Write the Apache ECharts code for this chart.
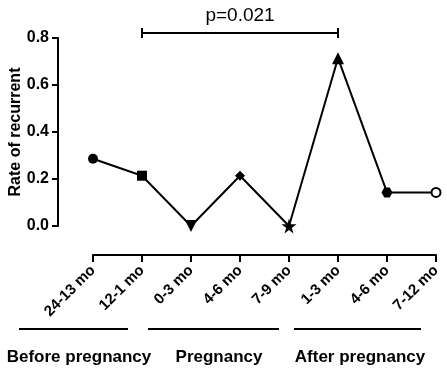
<!DOCTYPE html>
<html>
<head>
<meta charset="utf-8">
<script src="https://cdn.jsdelivr.net/npm/echarts@6/dist/echarts.min.js"></script>
<style>
html, body { margin: 0; padding: 0; background: #fff; }
#main { width: 447px; height: 376px; }
</style>
</head>
<body>
<div id="main"></div>
<script>
var periods = ['24-13 mo', '12-1 mo', '0-3 mo', '4-6 mo', '7-9 mo', '1-3 mo', '4-6 mo', '7-12 mo'];
var rates = [0.286, 0.214, 0, 0.214, 0, 0.714, 0.143, 0.143];
var marks = ['circle', 'rect', 'triangle', 'diamond', 'star', 'triangle', 'hexagon', 'emptyCircle'];
var groups = ['Before pregnancy', 'Pregnancy', 'After pregnancy'];
var yTicks = [0, 0.2, 0.4, 0.6, 0.8];
var pText = 'p=0.021';
var pFrom = 1, pTo = 5;

var starPath = 'path://M50,0 L61,35 L98,35 L68,57 L79,91 L50,70 L21,91 L32,57 L2,35 L39,35 Z';
var hexPath = 'path://M25,0 L75,0 L100,43 L75,86 L25,86 L0,43 Z';

var font = '"Liberation Sans", Arial, sans-serif';

var dom = document.getElementById('main');
var myChart = echarts.init(dom);

var pts = rates.map(function (v, i) {
    var it = { value: v, symbol: marks[i] };
    if (marks[i] == 'star') { it.symbol = starPath; it.symbolSize = 15; }
    if (marks[i] == 'hexagon') { it.symbol = hexPath; it.symbolSize = [11, 10]; }
    if (marks[i] == 'rect') { it.symbolSize = 10; }
    if (i == 2) { it.symbolRotate = 180; it.symbolSize = 12; }
    if (i == 5) { it.symbolSize = 12; }
    if (marks[i] == 'emptyCircle') { it.itemStyle = { borderWidth: 2.5 }; it.symbolSize = 9; }
    return it;
});

option = {
    animation: false,
    backgroundColor: '#fff',
    textStyle: { fontFamily: font },
    grid: { left: 93, right: 11, top: 38, bottom: 150, outerBoundsMode: 'none', containLabel: false },
    xAxis: {
        type: 'category',
        data: periods,
        boundaryGap: false,
        offset: 29,
        axisLine: { onZero: false, lineStyle: { color: '#000', width: 2 } },
        axisTick: { length: 7, lineStyle: { color: '#000', width: 2 } },
        axisLabel: { rotate: 45, margin: 13, color: '#000', fontWeight: 'bold', fontSize: 15, fontFamily: font, interval: 0 },
        splitLine: { show: false }
    },
    yAxis: {
        type: 'value',
        min: yTicks[0],
        max: yTicks[yTicks.length - 1],
        interval: 0.2,
        offset: 35,
        name: 'Rate of recurrent',
        nameLocation: 'middle',
        nameGap: 34,
        nameMoveOverlap: false,
        nameTextStyle: { color: '#000', fontWeight: 'bold', fontSize: 16, fontFamily: font },
        axisLine: { show: true, lineStyle: { color: '#000', width: 2 } },
        axisTick: { show: true, length: 6, lineStyle: { color: '#000', width: 2 } },
        axisLabel: {
            color: '#000', fontWeight: 'bold', fontSize: 16, margin: 9, fontFamily: font,
            formatter: function (v) { return v.toFixed(1); }
        },
        splitLine: { show: false }
    },
    series: [{
        type: 'line',
        data: pts,
        clip: false,
        symbolSize: 10,
        itemStyle: { color: '#000' },
        lineStyle: { color: '#000', width: 2 }
    }]
};

myChart.setOption(option, true);

// p-value bracket placed through the chart's own scales
var a = myChart.convertToPixel({ gridIndex: 0 }, [pFrom, 0.8]);
var b = myChart.convertToPixel({ gridIndex: 0 }, [pTo, 0.8]);
var by = a[1] - 5;
var ink = { stroke: '#000', lineWidth: 2 };
myChart.setOption({
    graphic: [
        { type: 'line', shape: { x1: a[0], y1: by, x2: b[0], y2: by }, style: ink },
        { type: 'line', shape: { x1: a[0], y1: by - 5, x2: a[0], y2: by + 5 }, style: ink },
        { type: 'line', shape: { x1: b[0], y1: by - 5, x2: b[0], y2: by + 5 }, style: ink },
        { type: 'text', x: (a[0] + b[0]) / 2, y: by - 17, style: { text: pText, fill: '#000', font: '19px ' + font, textAlign: 'center', textVerticalAlign: 'middle' } },
        { type: 'line', shape: { x1: 19, y1: 329, x2: 128, y2: 329 }, style: ink },
        { type: 'line', shape: { x1: 148, y1: 329, x2: 279, y2: 329 }, style: ink },
        { type: 'line', shape: { x1: 294, y1: 329, x2: 421, y2: 329 }, style: ink },
        { type: 'text', x: 79, y: 357, style: { text: groups[0], fill: '#000', font: 'bold 17px ' + font, textAlign: 'center', textVerticalAlign: 'middle' } },
        { type: 'text', x: 219, y: 357, style: { text: groups[1], fill: '#000', font: 'bold 17px ' + font, textAlign: 'center', textVerticalAlign: 'middle' } },
        { type: 'text', x: 360, y: 357, style: { text: groups[2], fill: '#000', font: 'bold 17px ' + font, textAlign: 'center', textVerticalAlign: 'middle' } }
    ]
});
</script>
</body>
</html>
